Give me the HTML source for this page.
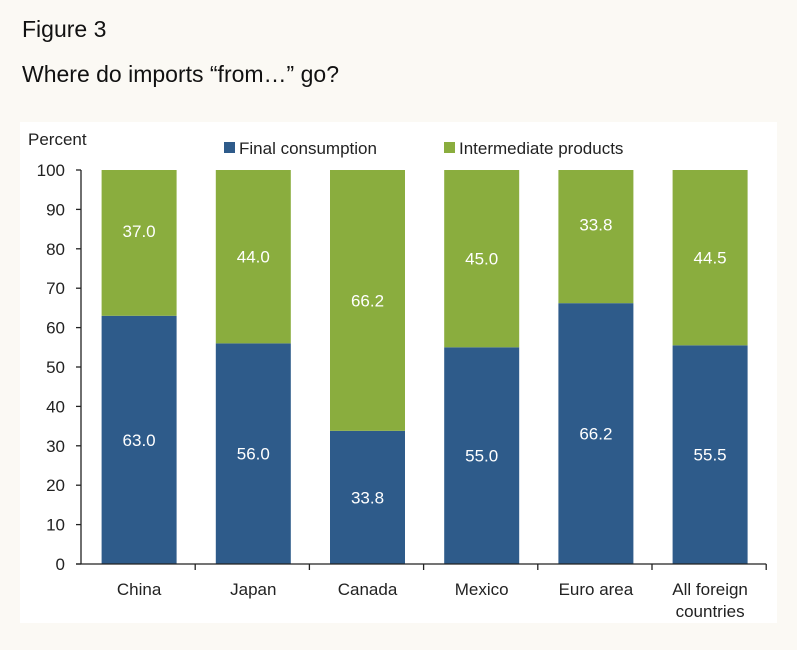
<!DOCTYPE html>
<html><head><meta charset="utf-8"><style>
body{margin:0;background:#fbf9f4;width:797px;height:650px;overflow:hidden;font-family:"Liberation Sans",sans-serif;}
.t{position:absolute;left:22px;font-size:23px;color:#111;}
#panel{position:absolute;left:20px;top:122px;width:757px;height:501px;background:#fff;}
</style></head><body>
<div class="t" style="top:16px">Figure 3</div>
<div class="t" style="top:61px">Where do imports “from…” go?</div>
<div id="panel"></div>
<svg id="chart" width="797" height="650" style="position:absolute;left:0;top:0"></svg>
<script>
const categories=[["China"],["Japan"],["Canada"],["Mexico"],["Euro area"],["All foreign","countries"]];
const finalVals=[63.0,56.0,33.8,55.0,66.2,55.5];
const interVals=[37.0,44.0,66.2,45.0,33.8,44.5];
const yTicks=[0,10,20,30,40,50,60,70,80,90,100];
const NS="http://www.w3.org/2000/svg";
const svg=document.getElementById('chart');
const x0=81,cw=114.2,bw=75,yb=564,yt=170;
const y=v=>yb-(yb-yt)*v/100;
function mk(t,a,txt){const e=document.createElementNS(NS,t);for(const k in a)e.setAttribute(k,a[k]);if(txt!=null)e.textContent=txt;svg.appendChild(e);return e;}
const C1="#2e5b8a",C2="#8aad3e";
categories.forEach((c,i)=>{
  const cx=x0+cw*(i+0.5)+1;
  let r=mk('rect',{x:cx-bw/2,y:y(finalVals[i]),width:bw,height:yb-y(finalVals[i]),fill:C1});
  
  r=mk('rect',{x:cx-bw/2,y:y(finalVals[i]+interVals[i]),width:bw,height:y(finalVals[i])-y(finalVals[i]+interVals[i]),fill:C2});
  
  let l=mk('text',{x:cx,y:y(finalVals[i]/2)+6,'text-anchor':'middle','font-size':17,fill:'#fff'},finalVals[i].toFixed(1));
  
  l=mk('text',{x:cx,y:y(finalVals[i]+interVals[i]/2)+6-(i==0||i==4?12:0),'text-anchor':'middle','font-size':17,fill:'#fff'},interVals[i].toFixed(1));
  
  c.forEach((s,j)=>{const t=mk('text',{x:cx,y:595+j*22,'text-anchor':'middle','font-size':17,fill:'#222'},s);
  });
  const tk=mk('line',{x1:x0+cw*(i+1),x2:x0+cw*(i+1),y1:yb,y2:yb+6,stroke:'#222','stroke-width':1.3});
  
});
yTicks.forEach(v=>{
  const tk=mk('line',{x1:x0-5,x2:x0,y1:y(v),y2:y(v),stroke:'#222','stroke-width':1.3});
  
  const t=mk('text',{x:x0-16,y:y(v)+6,'text-anchor':'end','font-size':17,fill:'#222'},String(v));
  
});
let a=mk('line',{x1:x0,x2:x0,y1:yt,y2:yb,stroke:'#222','stroke-width':1.3});

a=mk('line',{x1:x0-5,x2:x0+cw*6,y1:yb,y2:yb,stroke:'#222','stroke-width':1.3});

let t=mk('text',{x:28,y:145,'font-size':17,fill:'#222'},'Percent');

let g=mk('rect',{x:224,y:142,width:11,height:11,fill:C1});

t=mk('text',{x:239,y:154,'font-size':17,fill:'#222'},'Final consumption');

g=mk('rect',{x:444,y:142,width:11,height:11,fill:C2});

t=mk('text',{x:459,y:154,'font-size':17,fill:'#222'},'Intermediate products');

</script>
</body></html>
